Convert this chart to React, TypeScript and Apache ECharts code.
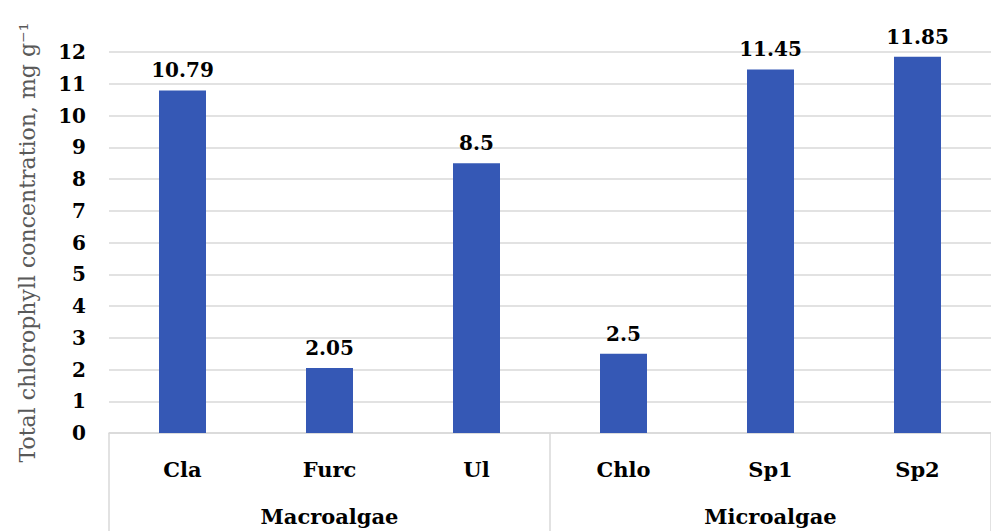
import React, { useEffect, useRef } from "react";
import * as echarts from "echarts";

const categories = ["Cla", "Furc", "Ul", "Chlo", "Sp1", "Sp2"];
const groups = ["Macroalgae", "Microalgae"];
const values = [10.79, 2.05, 8.5, 2.5, 11.45, 11.85];
const yTicks = [0, 1, 2, 3, 4, 5, 6, 7, 8, 9, 10, 11, 12];

const SERIF = "'DejaVu Serif', serif";

export default function App() {
  const ref = useRef<HTMLDivElement>(null);

  useEffect(() => {
    if (!ref.current) return;
    const chart = echarts.init(ref.current, undefined, { renderer: "svg" });
    chart.setOption({
      animation: false,
      backgroundColor: "#ffffff",
      grid: { left: 109, right: -10, top: 52, bottom: 98, containLabel: false },
      xAxis: [
        {
          type: "category",
          data: categories,
          position: "bottom",
          axisLine: { show: true, lineStyle: { color: "#d9d9d9", width: 1.5 } },
          axisTick: { show: false },
          axisLabel: {
            margin: 26,
            color: "#000000",
            fontFamily: SERIF,
            fontWeight: "bold",
            fontSize: 21,
          },
        },
        {
          type: "category",
          data: groups,
          position: "bottom",
          axisLine: { show: false },
          axisTick: {
            show: true,
            length: 100,
            lineStyle: { color: "#d9d9d9", width: 1.5 },
          },
          axisLabel: {
            margin: 73,
            color: "#000000",
            fontFamily: SERIF,
            fontWeight: "bold",
            fontSize: 21,
          },
        },
      ],
      yAxis: {
        type: "value",
        min: yTicks[0],
        max: yTicks[yTicks.length - 1],
        interval: 1,
        name: "Total chlorophyll concentration, mg g\u207B\u00B9",
        nameLocation: "middle",
        nameGap: 71,
        nameTextStyle: {
          color: "#595959",
          fontFamily: SERIF,
          fontSize: 22,
        },
        axisLine: { show: false },
        axisTick: { show: false },
        axisLabel: {
          margin: 23,
          color: "#000000",
          fontFamily: SERIF,
          fontWeight: "bold",
          fontSize: 20,
        },
        splitLine: { lineStyle: { color: "#d9d9d9", width: 1.5 } },
      },
      series: [
        {
          type: "bar",
          xAxisIndex: 0,
          data: values,
          barWidth: 47,
          itemStyle: { color: "#3558b5" },
          label: {
            show: true,
            position: "top",
            distance: 10,
            color: "#000000",
            fontFamily: SERIF,
            fontWeight: "bold",
            fontSize: 20,
          },
        },
      ],
    });
    return () => chart.dispose();
  }, []);

  return (
    <div
      ref={ref}
      style={{ position: "fixed", left: 0, top: 0, width: 991, height: 531 }}
    />
  );
}
